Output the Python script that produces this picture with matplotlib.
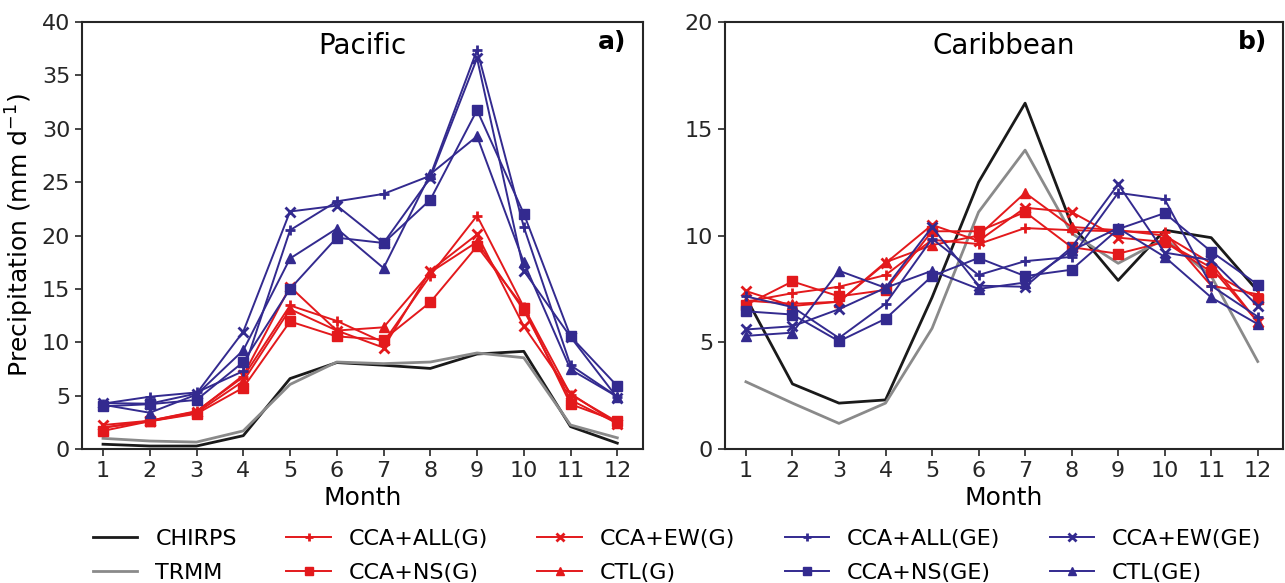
import matplotlib
matplotlib.use('Agg')
import matplotlib.pyplot as plt
import numpy as np

plt.rcParams['font.family'] = 'DejaVu Sans'
plt.rcParams['xtick.labelsize'] = 16
plt.rcParams['ytick.labelsize'] = 16

months = np.arange(1, 13)

# Pacific (mm/day)
chirps_pac = [0.45, 0.28, 0.28, 1.25, 6.6, 8.1, 7.85, 7.55, 8.9, 9.15, 2.1, 0.55]
trmm_pac = [1.0, 0.75, 0.65, 1.7, 6.05, 8.15, 8.0, 8.15, 9.0, 8.55, 2.25, 1.05]
all_g_pac = [2.0, 2.65, 3.55, 6.75, 13.45, 12.0, 10.0, 16.25, 21.85, 13.3, 5.1, 2.55]
ew_g_pac = [2.25, 2.65, 3.5, 6.9, 15.2, 11.1, 9.5, 16.7, 20.1, 11.5, 5.2, 2.35]
ns_g_pac = [1.7, 2.6, 3.3, 5.75, 11.95, 10.55, 10.25, 13.75, 19.0, 13.25, 4.2, 2.6]
ctl_g_pac = [2.0, 2.6, 3.4, 6.35, 13.1, 11.1, 11.4, 16.55, 19.4, 13.0, 4.6, 2.4]
all_ge_pac = [4.25, 4.9, 5.3, 7.3, 20.5, 23.2, 23.9, 25.6, 37.4, 20.8, 7.85, 4.9]
ew_ge_pac = [4.3, 4.25, 5.2, 11.0, 22.25, 22.8, 19.3, 25.4, 36.6, 16.7, 10.5, 4.8]
ns_ge_pac = [4.0, 4.2, 4.6, 8.15, 15.0, 19.8, 19.3, 23.35, 31.75, 22.05, 10.55, 5.9]
ctl_ge_pac = [4.15, 3.4, 5.1, 9.25, 17.85, 20.65, 16.95, 25.75, 29.3, 17.5, 7.45, 4.9]

# Caribbean (mm/day)
chirps_car = [7.1, 3.05, 2.15, 2.3, 7.1, 12.5, 16.2, 10.5, 7.9, 10.25, 9.9, 7.4]
trmm_car = [3.15, 2.15, 1.2, 2.15, 5.65, 11.1, 14.0, 10.1, 8.7, 9.85, 8.1, 4.1]
all_g_car = [6.9, 7.3, 7.6, 8.15, 9.8, 9.6, 10.35, 10.25, 10.2, 10.15, 7.65, 7.25]
ew_g_car = [7.4, 6.7, 6.9, 8.7, 10.5, 9.75, 11.3, 11.1, 9.9, 9.7, 8.5, 5.95]
ns_g_car = [6.75, 7.85, 7.15, 7.45, 10.2, 10.2, 11.1, 9.45, 9.15, 9.7, 8.3, 7.05]
ctl_g_car = [6.95, 6.8, 6.9, 8.75, 9.55, 10.0, 12.0, 10.4, 10.25, 10.0, 8.7, 5.95]
all_ge_car = [7.15, 6.65, 5.2, 6.8, 9.85, 8.15, 8.8, 9.0, 12.0, 11.7, 7.65, 6.2]
ew_ge_car = [5.6, 5.75, 6.55, 7.55, 10.4, 7.65, 7.6, 9.45, 12.4, 9.2, 8.85, 6.7]
ns_ge_car = [6.45, 6.3, 5.05, 6.1, 8.1, 8.95, 8.1, 8.4, 10.3, 11.05, 9.25, 7.7]
ctl_ge_car = [5.3, 5.45, 8.35, 7.55, 8.35, 7.5, 7.8, 9.3, 10.35, 9.0, 7.1, 5.85]

RED = '#e3191c'
BLUE = '#332a8f'

# (label, color, marker) in legend (column-wise) order
styles = [
    ('CHIRPS', '#1a1a1a', None),
    ('TRMM', '#8a8a8a', None),
    ('CCA+ALL(G)', RED, '+'),
    ('CCA+NS(G)', RED, 's'),
    ('CCA+EW(G)', RED, 'x'),
    ('CTL(G)', RED, '^'),
    ('CCA+ALL(GE)', BLUE, '+'),
    ('CCA+NS(GE)', BLUE, 's'),
    ('CCA+EW(GE)', BLUE, 'x'),
    ('CTL(GE)', BLUE, '^'),
]

pac = [chirps_pac, trmm_pac, all_g_pac, ns_g_pac, ew_g_pac, ctl_g_pac,
       all_ge_pac, ns_ge_pac, ew_ge_pac, ctl_ge_pac]
car = [chirps_car, trmm_car, all_g_car, ns_g_car, ew_g_car, ctl_g_car,
       all_ge_car, ns_ge_car, ew_ge_car, ctl_ge_car]

fig = plt.figure(figsize=(12.85, 5.83), dpi=100)
ax1 = fig.add_axes([0.0638, 0.2298, 0.4366, 0.7324])
ax2 = fig.add_axes([0.5642, 0.2298, 0.4345, 0.7324])


def draw(ax, series, title, tag, ymax, step):
    for (lab, col, mk), vals in zip(styles, series):
        if mk is None:
            ax.plot(months, vals, color=col, lw=2.0, label=lab)
        else:
            ax.plot(months, vals, color=col, lw=1.4, marker=mk, ms=7.5,
                    mew=2.0 if mk in '+x' else 1.0, label=lab)
    ax.set_xlim(0.55, 12.55)
    ax.set_ylim(0, ymax)
    ax.set_xticks(months)
    ax.set_yticks(np.arange(0, ymax + 0.1, step))
    ax.set_xlabel('Month', fontsize=18, labelpad=4)
    ax.text(0.5, 0.945, title, transform=ax.transAxes, ha='center', va='center', fontsize=20)
    ax.text(0.945, 0.953, tag, transform=ax.transAxes, ha='center', va='center',
            fontsize=18, fontweight='bold')
    for s in ax.spines.values():
        s.set_linewidth(1.5)
        s.set_color('#262626')
    ax.tick_params(length=5, width=1.2, color='#262626', labelcolor='#262626')


draw(ax1, pac, 'Pacific', 'a)', 40, 5)
draw(ax2, car, 'Caribbean', 'b)', 20, 5)
ax1.set_ylabel('Precipitation (mm d$^{-1}$)', fontsize=18)

handles, labels = ax1.get_legend_handles_labels()
fig.legend(handles, labels, ncol=5, loc='upper center', bbox_to_anchor=(0.527, 0.119),
           frameon=False, fontsize=16, handlelength=2.0, columnspacing=2.23,
           labelspacing=0.6, borderpad=0.2, markerscale=0.85)

fig.savefig('out.png', dpi=100)
